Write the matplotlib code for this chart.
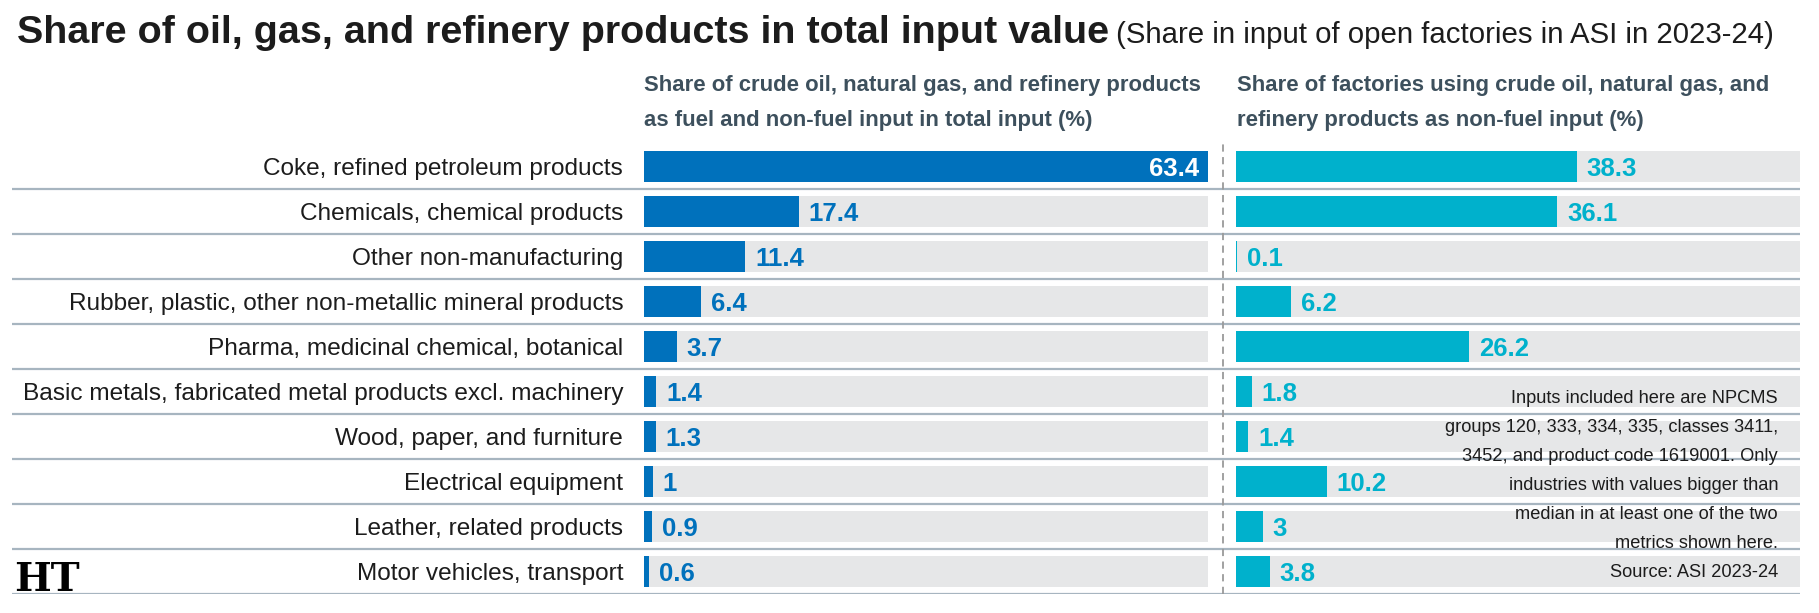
"""Share of oil, gas and refinery products in total input value (ASI 2023-24)."""

import matplotlib.pyplot as plt

categories = [
    "Coke, refined petroleum products",
    "Chemicals, chemical products",
    "Other non-manufacturing",
    "Rubber, plastic, other non-metallic mineral products",
    "Pharma, medicinal chemical, botanical",
    "Basic metals, fabricated metal products excl. machinery",
    "Wood, paper, and furniture",
    "Electrical equipment",
    "Leather, related products",
    "Motor vehicles, transport",
]
share_total_input = [63.4, 17.4, 11.4, 6.4, 3.7, 1.4, 1.3, 1, 0.9, 0.6]
share_factories = [38.3, 36.1, 0.1, 6.2, 26.2, 1.8, 1.4, 10.2, 3, 3.8]

title = "Share of oil, gas, and refinery products in total input value"
subtitle = "(Share in input of open factories in ASI in 2023-24)"
header_left = ["Share of crude oil, natural gas, and refinery products",
               "as fuel and non-fuel input in total input (%)"]
header_right = ["Share of factories using crude oil, natural gas, and",
                "refinery products as non-fuel input (%)"]
note_lines = [
    "Inputs included here are NPCMS",
    "groups 120, 333, 334, 335, classes 3411,",
    "3452, and product code 1619001. Only",
    "industries with values bigger than",
    "median in at least one of the two",
    "metrics shown here.",
    "Source: ASI 2023-24",
]

BLUE = "#0071bc"
CYAN = "#00b1cc"
TRACK = "#e6e7e8"
RULE = "#a7b5c0"
HEAD = "#3d505d"
INK = "#1c1c1c"

W, H = 1819, 613
plt.rcParams["font.family"] = ["Liberation Sans", "DejaVu Sans"]


def rect(x0, y0, x1, y1):
    # pixel box (top-left origin) -> figure fraction
    return [x0 / W, 1 - y1 / H, (x1 - x0) / W, (y1 - y0) / H]


fig = plt.figure(figsize=(W / 100, H / 100), dpi=100)
renderer = fig.canvas.get_renderer()


def fit_size(text, target_px, weight="normal"):
    # font size that makes `text` about target_px wide
    probe = fig.text(0, 0, text, fontsize=20, fontweight=weight)
    w = probe.get_window_extent(renderer).width
    probe.remove()
    return 20 * target_px / w


n = len(categories)
rows = list(range(n))
xmax = max(share_total_input)
bar_h = 0.71

label_fs = fit_size(max(categories, key=len), 600)
value_fs = fit_size("17.4", 50, "bold")
header_fs = fit_size(header_left[0], 557, "bold")
note_fs = fit_size(note_lines[1], 335)

# row rules behind everything
bg = fig.add_axes(rect(12, 144, 1800, 594))
bg.set_ylim(n - 0.5, -0.5)
bg.set_xlim(0, 1)
bg.hlines([r + 0.5 for r in rows], 0, 1, color=RULE, lw=1.6)
bg.axis("off")

ax_l = fig.add_axes(rect(644, 144, 1208, 594))
ax_r = fig.add_axes(rect(1236, 144, 1800, 594))

for ax, vals, color in [(ax_l, share_total_input, BLUE), (ax_r, share_factories, CYAN)]:
    ax.barh(rows, [xmax] * n, height=bar_h, color=TRACK, zorder=1)
    ax.barh(rows, vals, height=bar_h, color=color, zorder=2)
    ax.set_xlim(0, xmax)
    ax.set_ylim(n - 0.5, -0.5)
    ax.patch.set_visible(False)
    for s in ax.spines.values():
        s.set_visible(False)
    ax.set_xticks([])
    for r, v in zip(rows, vals):
        if v > 0.8 * xmax:
            ax.text(v - 1.0, r, f"{v:g}", color="white", fontsize=value_fs,
                    fontweight="bold", ha="right", va="center_baseline", zorder=3)
        else:
            ax.text(v + 1.1, r, f"{v:g}", color=color, fontsize=value_fs,
                    fontweight="bold", ha="left", va="center_baseline", zorder=3)

ax_l.set_yticks(rows)
ax_l.set_yticklabels(categories, fontsize=label_fs, color=INK)
ax_l.tick_params(axis="y", length=0, pad=15)
ax_r.set_yticks([])

# dashed divider between the panels
ax_l.axvline(xmax * 1.027, color="#9a9a9a", lw=1.3, ls=(0, (4, 3)),
             clip_on=False, zorder=0)

# titles
t = fig.text(17 / W, 1 - 43 / H, title, fontsize=fit_size(title, 1091, "bold"),
             fontweight="bold", color=INK, va="baseline")
bb = t.get_window_extent(renderer)
fig.text((bb.x1 + 7) / W, 1 - 43 / H, subtitle,
         fontsize=fit_size(subtitle, 657), color=INK, va="baseline")

for x0, lines in [(644, header_left), (1237, header_right)]:
    fig.text(x0 / W, 1 - 91 / H, lines[0], fontsize=header_fs, fontweight="bold",
             color=HEAD, va="baseline")
    fig.text(x0 / W, 1 - 126 / H, lines[1], fontsize=header_fs, fontweight="bold",
             color=HEAD, va="baseline")

# note, one line at a time so the spacing follows the reference
for i, line in enumerate(note_lines):
    fig.text(1778 / W, 1 - (403 + 29 * i) / H, line, fontsize=note_fs,
             color=INK, ha="right", va="baseline", zorder=3)

fig.text(14 / W, 1 - 591 / H, "HT", fontsize=28, fontweight="bold",
         family="DejaVu Serif", color="black", va="baseline")

fig.savefig("out.png", dpi=100)
